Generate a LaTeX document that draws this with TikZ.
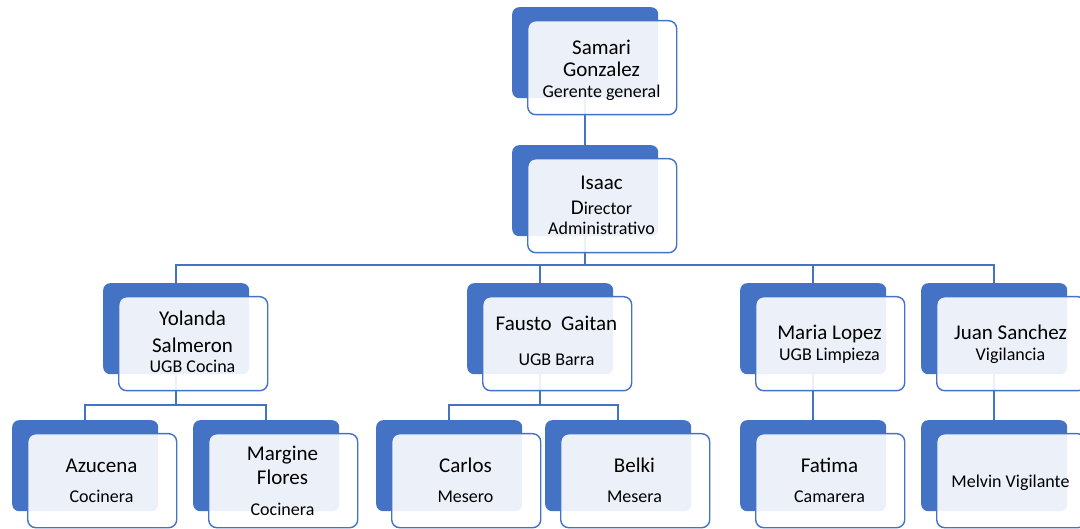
\documentclass[tikz,border=0pt]{standalone}
\usepackage{fontspec}
\setmainfont{Carlito}
\definecolor{ob}{HTML}{4472C4}
\newcommand\orgname{\fontsize{21}{20}\selectfont}
\newcommand\orgsub{\fontsize{18}{20}\selectfont}
\begin{document}
\begin{tikzpicture}[x=1pt,y=-1pt,
  backbox/.style={fill=ob, draw=none, rounded corners=7pt, minimum width=146pt, minimum height=91pt, inner sep=0pt, anchor=north west},
  frontbox/.style={fill=white, fill opacity=0.9, draw=ob, line width=1.4pt, rounded corners=8pt, minimum width=149pt, minimum height=94pt, inner sep=0pt, anchor=north west},
  boxtext/.style={align=center, font=\orgname, inner sep=0pt, anchor=base, text=black},
  link/.style={draw=ob, line width=1.8pt}]
\useasboundingbox (0,0) rectangle (1080,529);
\foreach \n/\x/\y in {s/512/7, i/512/145, y/103/283, f/467/283, m/740/283, j/921/283, az/12/420, mg/193/420, ca/376/420, be/545/420, fa/740/420, me/921/420}
  \node[backbox] (\n) at (\x,\y) {};
% connectors
\draw[link] (s.south) -- (i.north);
\draw[link] (i.south) -- ++(0,29) coordinate (j1);
\draw[link] (y.north) |- (j1) -| (j.north);
\draw[link] (f.north) -- (f.north |- j1);
\draw[link] (m.north) -- (m.north |- j1);
\draw[link] (y.south) -- ++(0,31) coordinate (j2);
\draw[link] (az.north) |- (j2) -| (mg.north);
\draw[link] (f.south) -- ++(0,31) coordinate (j3);
\draw[link] (ca.north) |- (j3) -| (be.north);
\draw[link] (m.south) -- (fa.north);
\draw[link] (j.south) -- (me.north);
% front boxes
\foreach \n/\x/\y in {s/512/7, i/512/145, y/103/283, f/467/283, m/740/283, j/921/283, az/12/420, mg/193/420, ca/376/420, be/545/420, fa/740/420, me/921/420}
  \node[frontbox] (\n-f) at (\x+15,\y+13) {};
% texts
\node[boxtext] (s-t) at (601.5,98) {Samari\\[2pt]Gonzalez\\[1pt]{\orgsub Gerente general}};
\node[boxtext] (i-t) at (601.5,235) {Isaac\\[5pt]{\orgsub{\orgname D}irector}\\{\orgsub Administrativo}};
\node[boxtext] (y-t) at (192.5,373) {Yolanda\\[7pt]Salmeron\\{\orgsub UGB Cocina}};
\node[boxtext] (f-t) at (556.5,366) {Fausto\ \ Gaitan\\[15pt]{\orgsub UGB Barra}};
\node[boxtext] (m-t) at (829.5,361) {Maria Lopez\\[1pt]{\orgsub UGB Limpieza}};
\node[boxtext] (j-t) at (1010.5,361) {Juan Sanchez\\[1pt]{\orgsub Vigilancia}};
\node[boxtext] (az-t) at (101.5,502) {Azucena\\[9pt]{\orgsub Cocinera}};
\node[boxtext] (mg-t) at (282.5,515) {Margine\\[4pt]Flores\\[11pt]{\orgsub Cocinera}};
\node[boxtext] (ca-t) at (465.5,503) {Carlos\\[11pt]{\orgsub Mesero}};
\node[boxtext] (be-t) at (634.5,503) {Belki\\[11pt]{\orgsub Mesera}};
\node[boxtext] (fa-t) at (829.5,502) {Fatima\\[9pt]{\orgsub Camarera}};
\node[boxtext] (me-t) at (1010.5,487) {\orgsub Melvin Vigilante};
\end{tikzpicture}
\end{document}
